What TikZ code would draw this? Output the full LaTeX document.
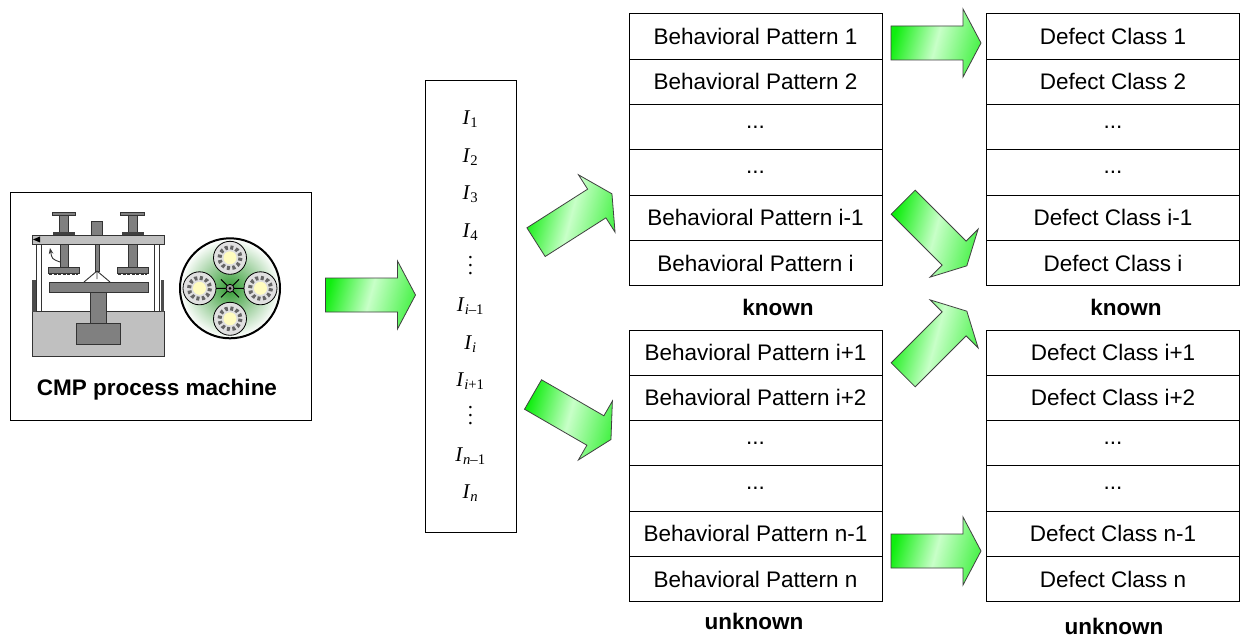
\documentclass[tikz,border=0pt]{standalone}
\usepackage{fontspec}
\setmainfont{Liberation Sans}
\newfontfamily\indfont{Liberation Serif}
\usetikzlibrary{arrows.meta,positioning}

\definecolor{arrgreen}{RGB}{15,238,15}
\definecolor{arrlight}{RGB}{200,255,200}
\definecolor{padgreen}{RGB}{50,155,50}
\definecolor{steel}{RGB}{128,128,128}
\definecolor{frame}{RGB}{192,192,192}
\newcommand{\indic}[1]{\textit{I}\textsubscript{#1}}
\newcommand{\tallvdots}{\vbox{\baselineskip=8pt\lineskiplimit=0pt\hbox{.}\hbox{.}\hbox{.}}}

\begin{document}
\begin{tikzpicture}[
  x=1pt, y=-1pt,
  font=\fontsize{22.5}{26}\selectfont,
  row/.style={rectangle, draw, line width=1pt, minimum width=253pt,
              minimum height=45.3pt, inner sep=0pt, outer sep=0pt},
  tag/.style={font=\fontsize{22.5}{26}\selectfont\bfseries},
  part/.style={draw=black!80, line width=0.9pt},
  fatarrow/.pic={
    \draw[draw=black!75, line width=0.8pt, left color=arrgreen,
          right color=arrgreen!75!white, middle color=arrlight, shading angle=75]
      (-45,-17) -- (27,-17) -- (27,-34) -- (45,0) -- (27,34) -- (27,17)
      -- (-45,17) -- cycle;},
  padhead/.pic={
    \draw[line width=0.8pt, fill=black!12] (0,0) circle (16.5);
    \draw[black!60, line width=4pt, dash pattern=on 3pt off 2.5pt] (0,0) circle (10.5);
    \fill[yellow!25] (0,0) circle (6.5);}
]
  \path[use as bounding box, fill=white] (0,0) rectangle (1248,639);

  % machine box
  \node[draw, line width=1pt, minimum width=301pt, minimum height=227pt] (cmp) at (160.5,306.5) {};
  \node[tag] (cmplbl) at (157,390) {CMP process machine};

  % polisher: base, column, platen
  \draw[part, fill=frame] (32.3,311.7) rectangle (164,356);
  \draw[part, fill=steel] (76,323.3) rectangle (120.7,344.3);
  \draw[part, fill=steel] (90,292.7) rectangle (106,323.3);
  \draw[part, fill=steel] (49.3,282.7) rectangle (148.3,292.7);
  \draw[part, fill=white] (36.7,244) rectangle (41.7,311.7);
  \draw[part, fill=white] (154.7,244) rectangle (159.7,311.7);
  \fill[black!70] (32.3,280) rectangle (36,311.7);
  \fill[black!70] (160.7,280) rectangle (164,311.7);
  \draw[part, fill=frame] (32.3,235) rectangle (164,244);
  % spindles on top
  \draw[part, fill=steel] (59.3,215.7) rectangle (68.3,233.3);
  \draw[part, fill=steel] (52.3,212.3) rectangle (75,215.7);
  \fill[black!75] (53.3,232) rectangle (75,235);
  \draw[part, fill=steel] (128.3,215.7) rectangle (137.3,233.3);
  \draw[part, fill=steel] (120.7,212.3) rectangle (144,215.7);
  \fill[black!75] (121.7,232) rectangle (144,235);
  \draw[part, fill=steel] (91.7,221.7) rectangle (102.3,235);
  % carriers and slurry arm
  \draw[part, fill=steel] (60,244) rectangle (68.3,267.3);
  \draw[part, fill=steel] (48.3,267.3) rectangle (79,273.3);
  \draw[black!80, line width=1.5pt, dash pattern=on 3pt off 1.5pt] (49,274.5) -- (78,274.5);
  \draw[part, fill=steel] (128.3,244) rectangle (137.3,267.3);
  \draw[part, fill=steel] (117.3,267.3) rectangle (148.3,273.3);
  \draw[black!80, line width=1.5pt, dash pattern=on 3pt off 1.5pt] (118,274.5) -- (147,274.5);
  \draw[part, fill=steel] (95,244) rectangle (99.3,271.7);
  \draw[part] (97,271) -- (84,282) (97,271) -- (110,282) (97,271) -- (97,279);
  \draw[part, -{Stealth[length=6pt]}] (60,262) .. controls (52,259) .. (50,248);
  \fill[black] (33,239.5) -- (40,236.5) -- (40,242.5) -- cycle;

  % pad seen from above
  \draw[line width=2pt, inner color=padgreen, outer color=white] (230,288.3) circle (50);
  \draw[line width=1pt] (214,288.3) -- (246,288.3) (221,279.3) -- (239,297.3)
    (221,297.3) -- (239,279.3);
  \pic at (230,257.8) {padhead};
  \pic at (199.5,288.3) {padhead};
  \pic at (260.5,288.3) {padhead};
  \pic at (230,318.8) {padhead};
  \draw[line width=0.8pt, fill=black!40] (230,288.3) circle (4);
  \fill[black] (230,288.3) circle (1.5);

  % indicator list
  \node[draw, line width=1pt, minimum width=91pt, minimum height=451pt,
        font=\indfont\fontsize{21}{37.4}\selectfont, align=center] (ilist) at (470.5,306.5)
    {\indic{1}\\ \indic{2}\\ \indic{3}\\ \indic{4}\\ \tallvdots\\ \indic{\textit{i}–1}\\
     \indic{\textit{i}}\\ \indic{\textit{i}+1}\\ \tallvdots\\ \indic{\textit{n}–1}\\
     \indic{\textit{n}}};

  % behavioral patterns
  \node[row] (bp1) at (755.5,36.65) {Behavioral Pattern 1};
  \node[row, below=0pt of bp1] (bp2) {Behavioral Pattern 2};
  \node[row, below=0pt of bp2] (bp3) {...};
  \node[row, below=0pt of bp3] (bp4) {...};
  \node[row, below=0pt of bp4] (bp5) {Behavioral Pattern i-1};
  \node[row, below=0pt of bp5] (bp6) {Behavioral Pattern i};
  \node[tag] (bpknown) at (778,307) {known};
  \node[row] (bq1) at (755.5,352.65) {Behavioral Pattern i+1};
  \node[row, below=0pt of bq1] (bq2) {Behavioral Pattern i+2};
  \node[row, below=0pt of bq2] (bq3) {...};
  \node[row, below=0pt of bq3] (bq4) {...};
  \node[row, below=0pt of bq4] (bq5) {Behavioral Pattern n-1};
  \node[row, below=0pt of bq5] (bq6) {Behavioral Pattern n};
  \node[tag] (bpunknown) at (754,621) {unknown};

  % defect classes
  \node[row] (dc1) at (1113,36.65) {Defect Class 1};
  \node[row, below=0pt of dc1] (dc2) {Defect Class 2};
  \node[row, below=0pt of dc2] (dc3) {...};
  \node[row, below=0pt of dc3] (dc4) {...};
  \node[row, below=0pt of dc4] (dc5) {Defect Class i-1};
  \node[row, below=0pt of dc5] (dc6) {Defect Class i};
  \node[tag] (dcknown) at (1126,307) {known};
  \node[row] (dd1) at (1113,352.65) {Defect Class i+1};
  \node[row, below=0pt of dd1] (dd2) {Defect Class i+2};
  \node[row, below=0pt of dd2] (dd3) {...};
  \node[row, below=0pt of dd3] (dd4) {...};
  \node[row, below=0pt of dd4] (dd5) {Defect Class n-1};
  \node[row, below=0pt of dd5] (dd6) {Defect Class n};
  \node[tag] (dcunknown) at (1114,626) {unknown};

  % block arrows
  \pic at (370.5,295) {fatarrow};
  \pic[rotate=32.5] at (574,218) {fatarrow};
  \pic[rotate=-30] at (572,417) {fatarrow};
  \pic at (936,43) {fatarrow};
  \pic[rotate=-45] at (935,234) {fatarrow};
  \pic[rotate=45] at (935,343) {fatarrow};
  \pic at (936,551) {fatarrow};
\end{tikzpicture}
\end{document}
